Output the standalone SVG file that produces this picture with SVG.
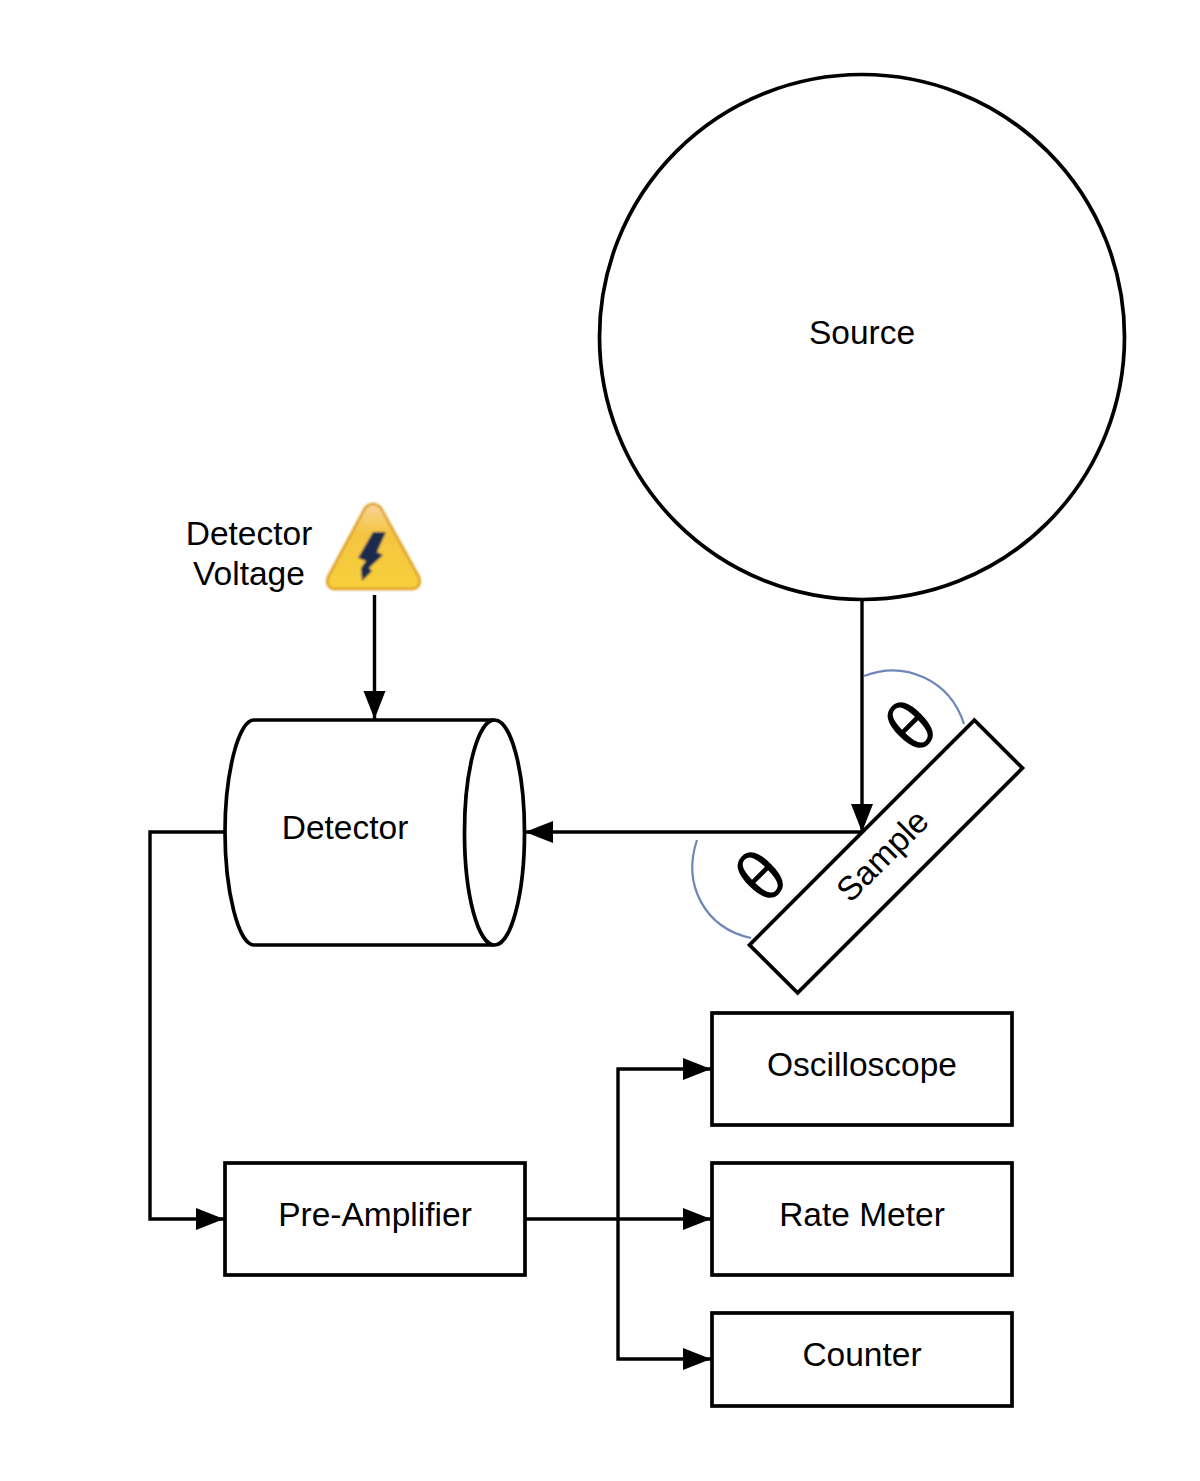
<svg xmlns="http://www.w3.org/2000/svg" width="1200" height="1481" viewBox="0 0 1200 1481">
<style>
.s{fill:#fff;stroke:#000;stroke-width:3.7}
.c{fill:none;stroke:#000;stroke-width:3.4}
.t{font-family:"Liberation Sans",Arial,sans-serif;font-size:33.5px;fill:#000;text-anchor:middle}
.a{fill:none;stroke:#6f86b8;stroke-width:2.2}
.h{font-family:"Liberation Sans",Arial,sans-serif;font-size:72px;fill:#000;text-anchor:middle}
</style>
<defs>
<marker id="ah" markerUnits="userSpaceOnUse" markerWidth="30" markerHeight="24" refX="28" refY="11" orient="auto" viewBox="0 0 30 24"><path d="M0 0L28 11L0 22Z" fill="#000"/></marker>
<linearGradient id="y" x1="0" y1="0" x2="0" y2="1"><stop offset="0" stop-color="#f8d49a"/><stop offset=".35" stop-color="#f6c440"/><stop offset="1" stop-color="#f7d03c"/></linearGradient>
<filter id="b" x="-10%" y="-10%" width="120%" height="120%"><feGaussianBlur stdDeviation=".8"/></filter>
</defs>
<g id="connectors">
<path class="c" d="M862 600V832" marker-end="url(#ah)"/>
<path class="c" d="M862 832H525" marker-end="url(#ah)"/>
<path class="c" d="M374.500 595V719" marker-end="url(#ah)"/>
<path class="c" d="M224 832H150V1219H224" marker-end="url(#ah)"/>
<path class="c" d="M525 1219H711" marker-end="url(#ah)"/>
<path class="c" d="M618 1219V1069H711" marker-end="url(#ah)"/>
<path class="c" d="M618 1219V1359H711" marker-end="url(#ah)"/>
</g>
<g id="source"><circle class="s" cx="862" cy="337" r="262.500"/><text class="t" x="862" y="344">Source</text></g>
<g id="detector-voltage"><text class="t" x="249" y="545">Detector</text><text class="t" x="249" y="585">Voltage</text>
<g id="warning" filter="url(#b)">
<path d="M373 504Q367 504 364 510L328 577Q325 587 334 589H413Q422 587 419 577L382 510Q379 504 373 504Z" fill="url(#y)" stroke="#dd9d22" stroke-width="2.500"/>
<path d="M373 532H386L377 552L383 555L369 568L372 571L362 581L361 568L366 561L358 558Z" fill="#1e2a4e"/>
</g></g>
<g id="detector">
<path class="s" d="M254 720H494C478 720 465 775 465 832C465 889 478 945 494 945H254C238 945 225 889 225 832C225 775 238 720 254 720Z"/>
<ellipse class="s" cx="494.500" cy="832.500" rx="30" ry="112.500"/>
<text class="t" x="345" y="839">Detector</text></g>
<g id="sample"><rect class="s" x="727" y="822.500" width="318" height="68" transform="rotate(-45 886 856.500)"/>
<text class="t" transform="rotate(-45 882 855)" x="882" y="867">Sample</text></g>
<g id="angles">
<path class="a" d="M864 676C905 660 950 680 964 724"/>
<path class="a" d="M697 840C682 885 705 928 751 938"/>
<text class="h" transform="translate(910 725) rotate(-45) scale(.95 1)" y="26">θ</text>
<text class="h" transform="translate(760 875) rotate(-45) scale(.95 1)" y="26">θ</text>
</g>
<g id="oscilloscope"><rect class="s" x="712" y="1013" width="300" height="112"/><text class="t" x="862" y="1076">Oscilloscope</text></g>
<g id="rate-meter"><rect class="s" x="712" y="1163" width="300" height="112"/><text class="t" x="862" y="1226">Rate Meter</text></g>
<g id="counter"><rect class="s" x="712" y="1313" width="300" height="93"/><text class="t" x="862" y="1366">Counter</text></g>
<g id="pre-amplifier"><rect class="s" x="225" y="1163" width="300" height="112"/><text class="t" x="375" y="1226">Pre-Amplifier</text></g>
</svg>
